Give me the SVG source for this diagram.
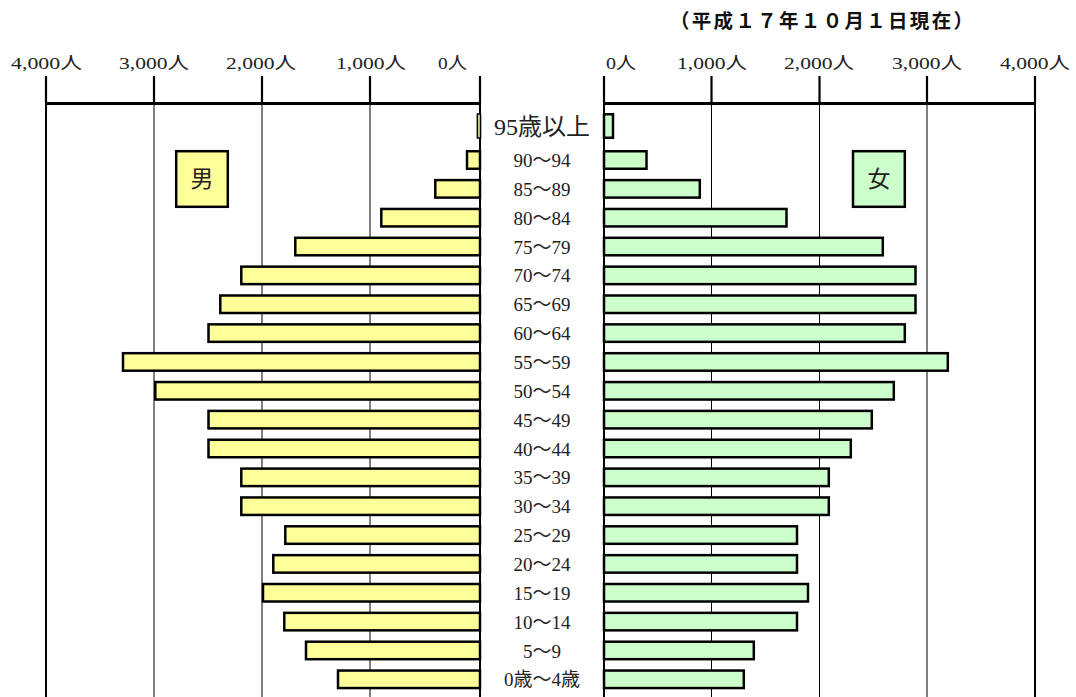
<svg xmlns="http://www.w3.org/2000/svg" width="1076" height="697" viewBox="0 0 1076 697">
<style>
.bg{fill:#ffffff}
.tick{stroke:#000;stroke-width:2.2}
.axis{stroke:#000;stroke-width:2.8}
.grid{stroke:#000;stroke-width:1}
.gridb{stroke:#000;stroke-width:2}
.m{fill:#FFFF99;stroke:#000;stroke-width:2.5}
.f{fill:#CCFFCC;stroke:#000;stroke-width:2.5}
.ax{font-family:'Liberation Serif','Noto Sans CJK JP',serif;font-size:17px;fill:#222}
.age{font-family:'Liberation Serif','Noto Sans CJK JP',serif;font-size:19px;fill:#222;text-anchor:middle}
.title{font-family:'Noto Sans CJK JP','Liberation Sans',sans-serif;font-size:19.5px;font-weight:bold;fill:#111}
.sex{font-family:'Noto Sans CJK JP',sans-serif;font-size:23px;fill:#222;text-anchor:middle}
</style>
<rect class="bg" x="0" y="0" width="1076" height="697"/>
<text class="title" x="670" y="28" textLength="303" lengthAdjust="spacing">（平成１７年１０月１日現在）</text>
<g id="axis-left">
<text class="ax" x="11" y="69" textLength="71" lengthAdjust="spacingAndGlyphs">4,000人</text>
<text class="ax" x="119" y="69" textLength="70" lengthAdjust="spacingAndGlyphs">3,000人</text>
<text class="ax" x="226" y="69" textLength="70" lengthAdjust="spacingAndGlyphs">2,000人</text>
<text class="ax" x="336" y="69" textLength="70" lengthAdjust="spacingAndGlyphs">1,000人</text>
<text class="ax" x="438" y="69" textLength="29" lengthAdjust="spacingAndGlyphs">0人</text>
<line class="tick" x1="46" y1="76" x2="46" y2="103"/>
<line class="tick" x1="154" y1="76" x2="154" y2="103"/>
<line class="tick" x1="262" y1="76" x2="262" y2="103"/>
<line class="tick" x1="370" y1="76" x2="370" y2="103"/>
<line class="tick" x1="480" y1="76" x2="480" y2="103"/>
<line class="gridb" x1="46" y1="103" x2="46" y2="697"/>
<line class="grid" x1="154" y1="103" x2="154" y2="697"/>
<line class="grid" x1="262" y1="103" x2="262" y2="697"/>
<line class="grid" x1="370" y1="103" x2="370" y2="697"/>
<line class="gridb" x1="480" y1="103" x2="480" y2="697"/>
<line class="axis" x1="45" y1="103.5" x2="481" y2="103.5"/>
</g>
<g id="axis-right">
<text class="ax" x="606" y="69" textLength="30" lengthAdjust="spacingAndGlyphs">0人</text>
<text class="ax" x="677" y="69" textLength="70" lengthAdjust="spacingAndGlyphs">1,000人</text>
<text class="ax" x="784" y="69" textLength="70" lengthAdjust="spacingAndGlyphs">2,000人</text>
<text class="ax" x="892" y="69" textLength="70" lengthAdjust="spacingAndGlyphs">3,000人</text>
<text class="ax" x="1000" y="69" textLength="70" lengthAdjust="spacingAndGlyphs">4,000人</text>
<line class="tick" x1="604" y1="76" x2="604" y2="103"/>
<line class="tick" x1="711.5" y1="76" x2="711.5" y2="103"/>
<line class="tick" x1="819.5" y1="76" x2="819.5" y2="103"/>
<line class="tick" x1="927" y1="76" x2="927" y2="103"/>
<line class="tick" x1="1035" y1="76" x2="1035" y2="103"/>
<line class="gridb" x1="604" y1="103" x2="604" y2="697"/>
<line class="grid" x1="711.5" y1="103" x2="711.5" y2="697"/>
<line class="grid" x1="819.5" y1="103" x2="819.5" y2="697"/>
<line class="grid" x1="927" y1="103" x2="927" y2="697"/>
<line class="gridb" x1="1035" y1="103" x2="1035" y2="697"/>
<line class="axis" x1="603" y1="103.5" x2="1036" y2="103.5"/>
</g>
<g id="legend-male"><rect class="m" x="176.2" y="151.2" width="51.6" height="55.6"/><text class="sex" x="202" y="187">男</text></g>
<g id="legend-female"><rect class="f" x="853" y="151.2" width="51.8" height="55.6"/><text class="sex" x="879" y="187">女</text></g>
<g id="row-95plus"><rect class="m" x="477.4" y="114" width="3.1" height="24" style="stroke-width:1.6"/><rect class="f" x="604" y="114.25" width="9" height="23.5"/><text class="age" x="542" y="135" style="font-size:24px">95歳以上</text></g>
<g id="row-90-94"><rect class="m" x="467" y="151.25" width="13" height="17.5"/><rect class="f" x="604" y="151.25" width="42.5" height="17.5"/><text class="age" x="542" y="167">90～94</text></g>
<g id="row-85-89"><rect class="m" x="435.3" y="180.1" width="44.7" height="17.5"/><rect class="f" x="604" y="180.1" width="95.8" height="17.5"/><text class="age" x="542" y="195.9">85～89</text></g>
<g id="row-80-84"><rect class="m" x="381.3" y="208.95" width="98.7" height="17.5"/><rect class="f" x="604" y="208.95" width="182.5" height="17.5"/><text class="age" x="542" y="224.7">80～84</text></g>
<g id="row-75-79"><rect class="m" x="295.3" y="237.8" width="184.7" height="17.5"/><rect class="f" x="604" y="237.8" width="278.8" height="17.5"/><text class="age" x="542" y="253.6">75～79</text></g>
<g id="row-70-74"><rect class="m" x="241.3" y="266.65" width="238.7" height="17.5"/><rect class="f" x="604" y="266.65" width="311.5" height="17.5"/><text class="age" x="542" y="282.4">70～74</text></g>
<g id="row-65-69"><rect class="m" x="220.3" y="295.5" width="259.7" height="17.5"/><rect class="f" x="604" y="295.5" width="311.5" height="17.5"/><text class="age" x="542" y="311.3">65～69</text></g>
<g id="row-60-64"><rect class="m" x="208.5" y="324.35" width="271.5" height="17.5"/><rect class="f" x="604" y="324.35" width="300.8" height="17.5"/><text class="age" x="542" y="340.1">60～64</text></g>
<g id="row-55-59"><rect class="m" x="123" y="353.2" width="357" height="17.5"/><rect class="f" x="604" y="353.2" width="343.8" height="17.5"/><text class="age" x="542" y="369">55～59</text></g>
<g id="row-50-54"><rect class="m" x="155.3" y="382.05" width="324.7" height="17.5"/><rect class="f" x="604" y="382.05" width="289.8" height="17.5"/><text class="age" x="542" y="397.8">50～54</text></g>
<g id="row-45-49"><rect class="m" x="208.5" y="410.9" width="271.5" height="17.5"/><rect class="f" x="604" y="410.9" width="267.8" height="17.5"/><text class="age" x="542" y="426.7">45～49</text></g>
<g id="row-40-44"><rect class="m" x="208.5" y="439.75" width="271.5" height="17.5"/><rect class="f" x="604" y="439.75" width="246.8" height="17.5"/><text class="age" x="542" y="455.5">40～44</text></g>
<g id="row-35-39"><rect class="m" x="241.3" y="468.6" width="238.7" height="17.5"/><rect class="f" x="604" y="468.6" width="224.8" height="17.5"/><text class="age" x="542" y="484.4">35～39</text></g>
<g id="row-30-34"><rect class="m" x="241.3" y="497.45" width="238.7" height="17.5"/><rect class="f" x="604" y="497.45" width="224.8" height="17.5"/><text class="age" x="542" y="513.2">30～34</text></g>
<g id="row-25-29"><rect class="m" x="285.3" y="526.3" width="194.7" height="17.5"/><rect class="f" x="604" y="526.3" width="193" height="17.5"/><text class="age" x="542" y="542.1">25～29</text></g>
<g id="row-20-24"><rect class="m" x="273.3" y="555.15" width="206.7" height="17.5"/><rect class="f" x="604" y="555.15" width="193" height="17.5"/><text class="age" x="542" y="570.9">20～24</text></g>
<g id="row-15-19"><rect class="m" x="263" y="584" width="217" height="17.5"/><rect class="f" x="604" y="584" width="204" height="17.5"/><text class="age" x="542" y="599.8">15～19</text></g>
<g id="row-10-14"><rect class="m" x="284.3" y="612.85" width="195.7" height="17.5"/><rect class="f" x="604" y="612.85" width="193" height="17.5"/><text class="age" x="542" y="628.6">10～14</text></g>
<g id="row-5-9"><rect class="m" x="306" y="641.7" width="174" height="17.5"/><rect class="f" x="604" y="641.7" width="149.8" height="17.5"/><text class="age" x="542" y="657.5">5～9</text></g>
<g id="row-0-4"><rect class="m" x="338" y="670.55" width="142" height="17.5"/><rect class="f" x="604" y="670.55" width="139.8" height="17.5"/><text class="age" x="542" y="686.3">0歳～4歳</text></g>
</svg>
